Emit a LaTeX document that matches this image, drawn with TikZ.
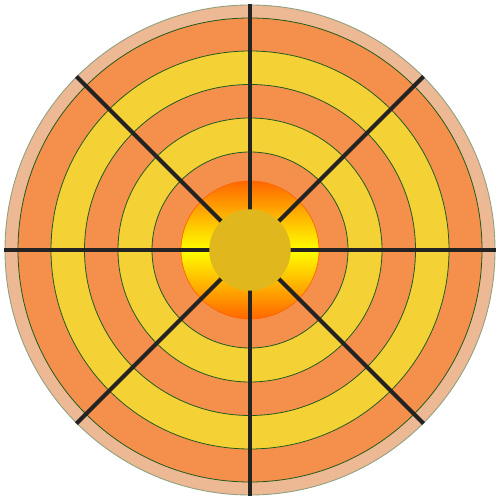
\documentclass[tikz,border=0pt]{standalone}
\begin{document}
\begin{tikzpicture}
\definecolor{salmonc}{HTML}{EDB894}
\definecolor{orangec}{HTML}{F4904B}
\definecolor{yellowc}{HTML}{F4D236}
\definecolor{edgec}{HTML}{1E5A1E}
\definecolor{rimc}{HTML}{8FA080}
\definecolor{hubc}{HTML}{E0B81E}
\definecolor{spokec}{HTML}{232323}
\definecolor{hotc}{HTML}{FF6600}
\definecolor{brightc}{HTML}{FFFF00}
\tikzset{
  ring/.style={draw=edgec, line width=0.45pt},
  spoke/.style={draw=spokec, line width=0.08cm, line cap=butt}
}
\useasboundingbox (0,0) rectangle (10,10);
\coordinate (c) at (5,5);
\fill[salmonc, draw=rimc, line width=0.5pt] (c) circle (4.9);
\fill[orangec, ring] (c) circle (4.64);
\fill[yellowc, ring] (c) circle (3.98);
\fill[orangec, ring] (c) circle (3.31);
\fill[yellowc, ring] (c) circle (2.64);
\fill[orangec, ring] (c) circle (1.96);
\shade[top color=hotc, bottom color=hotc, middle color=brightc] (c) circle (1.38);
\draw[draw=orange!80!red, line width=0.4pt] (c) circle (1.38);
\foreach \a in {0,45,...,315} {
  \draw[spoke] (c) -- ++(\a:4.91);
}
\fill[hubc] (c) circle (0.815);
\end{tikzpicture}
\end{document}
